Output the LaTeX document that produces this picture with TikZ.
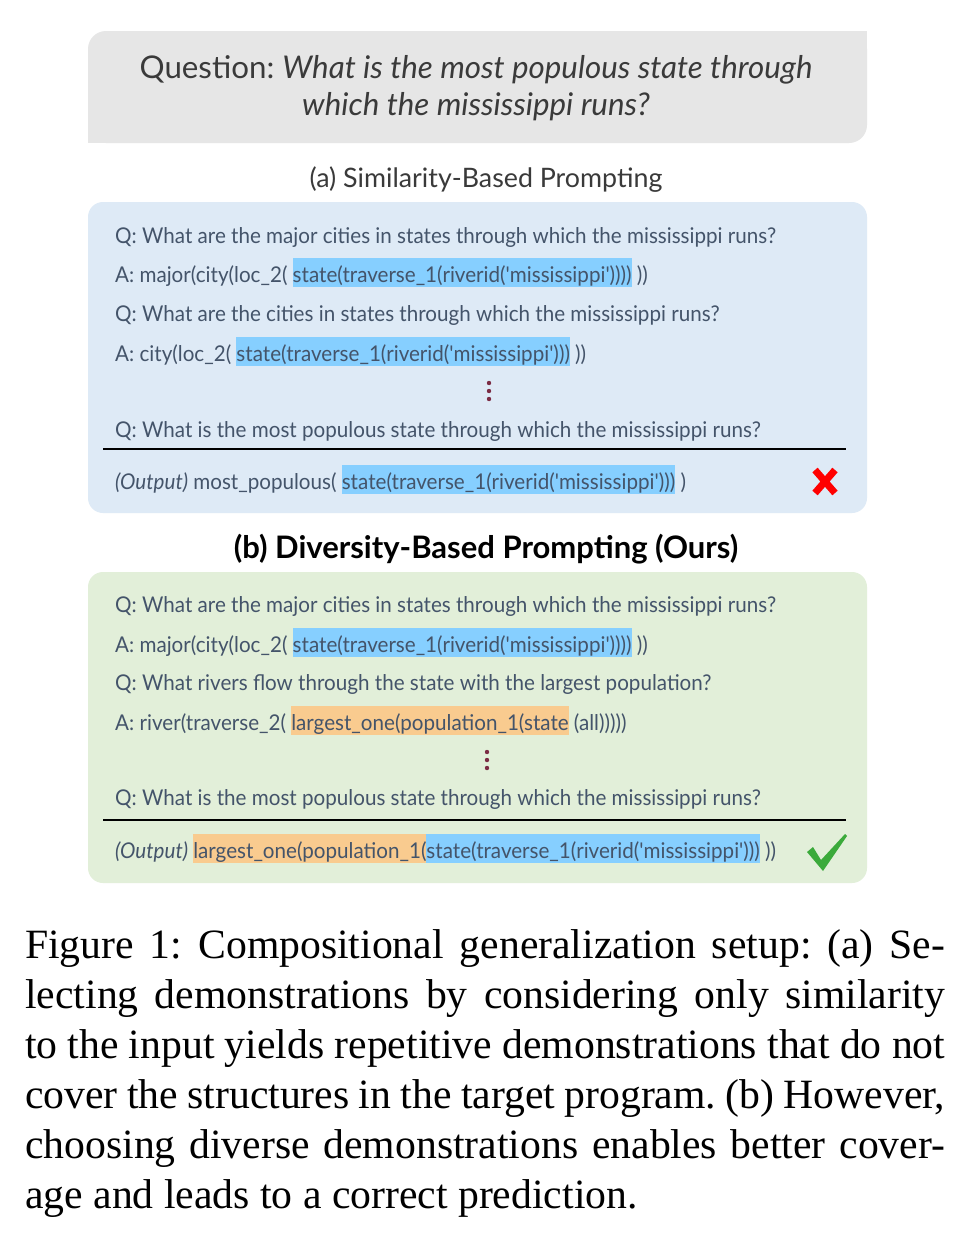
\documentclass[tikz,border=0pt]{standalone}
\usepackage{fontspec}
\setmainfont{Lato}
\newfontfamily\uifont[FakeStretch=0.95]{Lato}
\newfontfamily\ttlfont{Lato}
\newfontfamily\capfont{Liberation Serif}
\definecolor{qbox}{HTML}{E6E6E6}
\definecolor{bbox}{HTML}{DEEAF6}
\definecolor{gbox}{HTML}{E2EFD9}
\definecolor{hlblue}{HTML}{86CFFF}
\definecolor{hlorange}{HTML}{F9CB8F}
\definecolor{txt}{HTML}{44546A}
\definecolor{ttl}{HTML}{3A3A3A}
\definecolor{dotc}{HTML}{7B2C44}
\definecolor{okgreen}{HTML}{3BAA3B}
\newcommand\hlb[1]{{\setlength\fboxsep{0pt}\colorbox{hlblue}{\rule[-4.5pt]{0pt}{29pt}#1}}}
\newcommand\hlo[1]{{\setlength\fboxsep{0pt}\colorbox{hlorange}{\rule[-4.5pt]{0pt}{29pt}#1}}}
\begin{document}
\frenchspacing
\begin{tikzpicture}[x=1pt,y=-1pt,
  ln/.style={anchor=base west, inner sep=0pt, font=\uifont\fontsize{21.7}{26}\selectfont, text=txt},
  capline/.style={anchor=base west, inner sep=0pt, font=\capfont\fontsize{41.7}{50}\selectfont},
  sep/.style={line width=2pt, black},
  dot/.style={fill=dotc}]
\useasboundingbox (0,0) rectangle (971,1242);
\fill[white] (0,0) rectangle (971,1242);
% question box
\fill[qbox, rounded corners=18pt] (88,31) rectangle (867,143);
\fill[qbox] (820,31) rectangle (867,80);
\fill[qbox] (88,95) rectangle (140,143);
\node[align=center, inner sep=0pt, text=ttl, font=\ttlfont\fontsize{31.3}{37}\selectfont] (question) at (476,88)
  {Question: \textit{What is the most populous state through}\\ \textit{which the mississippi runs?}};
% (a)
\node[inner sep=0pt, text=ttl, font=\ttlfont\fontsize{26.8}{30}\selectfont] (titlea) at (486,180) {(a) Similarity-Based Prompting};
\fill[bbox, rounded corners=15pt] (88,202) rectangle (867,513);
\node[ln] (aq1) at (115,243) {Q: What are the major cities in states through which the mississippi runs?};
\node[ln] (aa1) at (115,282) {A: major(city(loc\_2( \hlb{state(traverse\_1(riverid('mississippi'))))} ))};
\node[ln] (aq2) at (115,321) {Q: What are the cities in states through which the mississippi runs?};
\node[ln] (aa2) at (115,361) {A: city(loc\_2( \hlb{state(traverse\_1(riverid('mississippi')))} ))};
\fill[dot] (489,383) circle (2.2) (489,391) circle (2.2) (489,399) circle (2.2);
\node[ln] (aq3) at (115,437) {Q: What is the most populous state through which the mississippi runs?};
\draw[sep] (103,449) -- (846,449);
\node[ln] (aout) at (115,489) {\textit{(Output)} most\_populous( \hlb{state(traverse\_1(riverid('mississippi')))} )};
\draw[red, line width=7pt] (815,470) -- (835,493) (835,470) -- (815,493);
% (b)
\node[inner sep=0pt, text=black, font=\ttlfont\bfseries\fontsize{31}{34}\selectfont] (titleb) at (486,549) {(b) Diversity-Based Prompting (Ours)};
\fill[gbox, rounded corners=15pt] (88,572) rectangle (867,883);
\node[ln] (bq1) at (115,612) {Q: What are the major cities in states through which the mississippi runs?};
\node[ln] (ba1) at (115,652) {A: major(city(loc\_2( \hlb{state(traverse\_1(riverid('mississippi'))))} ))};
\node[ln] (bq2) at (115,690) {Q: What rivers flow through the state with the largest population?};
\node[ln] (ba2) at (115,730) {A: river(traverse\_2( \hlo{largest\_one(population\_1(state} (all)))))};
\fill[dot] (487,752) circle (2.2) (487,760) circle (2.2) (487,768) circle (2.2);
\node[ln] (bq3) at (115,805) {Q: What is the most populous state through which the mississippi runs?};
\draw[sep] (103,820) -- (846,820);
\node[ln] (bout) at (115,858) {\textit{(Output)} \hlo{largest\_one(population\_1(}\hlb{state(traverse\_1(riverid('mississippi')))} ))};
\fill[okgreen] (807,852) -- (813,847) -- (821,860) -- (845,834) -- (847,836) -- (823,871) -- cycle;
% caption
\node[capline] (cap1) at (25,958) {\hbox to 920pt{Figure 1: Compositional generalization setup: (a) Se-}};
\node[capline] (cap2) at (25,1008) {\hbox to 920pt{lecting demonstrations by considering only similarity}};
\node[capline] (cap3) at (25,1058) {\hbox to 920pt{to the input yields repetitive demonstrations that do not}};
\node[capline] (cap4) at (25,1108) {\hbox to 920pt{cover the structures in the target program. (b) However,}};
\node[capline] (cap5) at (25,1158) {\hbox to 920pt{choosing diverse demonstrations enables better cover-}};
\node[capline] (cap6) at (25,1208) {age and leads to a correct prediction.};
\end{tikzpicture}
\end{document}
